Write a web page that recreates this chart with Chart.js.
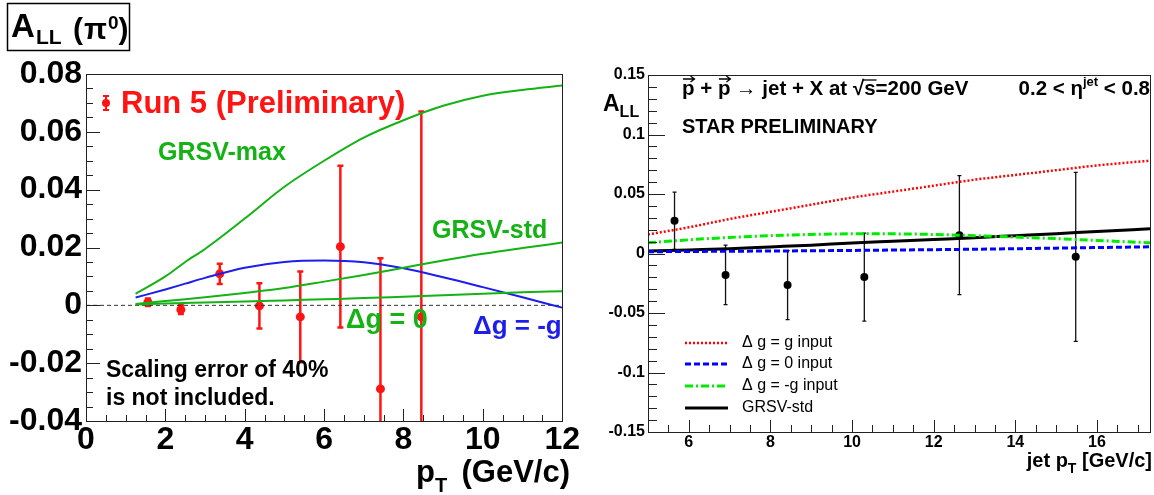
<!DOCTYPE html>
<html>
<head>
<meta charset="utf-8">
<script src="https://cdn.jsdelivr.net/npm/chart.js@4.4.0/dist/chart.umd.min.js"></script>
<style>
html, body { margin: 0; padding: 0; background: #fff; }
#wrap { position: relative; width: 1154px; height: 495px; overflow: hidden; }
.box { position: absolute; top: 0; height: 495px; }
</style>
</head>
<body>
<div id="wrap">
  <div class="box" style="left:0;width:580px"><canvas id="pi0"></canvas></div>
  <div class="box" style="left:580px;width:574px"><canvas id="jet"></canvas></div>
</div>
<script>
// pi0 panel: data points
const pi0Pt  = [1.56, 2.39, 3.37, 4.37, 5.40, 6.41, 7.42, 8.45];
const pi0All = [0.0011, -0.0015, 0.0109, -0.0002, -0.0040, 0.0203, -0.0289, -0.0040];
const pi0Err = [0.0013, 0.0015, 0.0035, 0.0078, 0.0157, 0.0280, 0.0452, 0.0710];
// pi0 panel: theory curves
const pi0CurvePt = [1.25, 2, 2.5, 3, 4, 5, 6, 7, 8, 9, 10, 11, 12];
const pi0GrsvMax = [0.004, 0.010, 0.015, 0.0195, 0.030, 0.041, 0.050, 0.058, 0.064, 0.069, 0.0725, 0.0745, 0.076];
const pi0GrsvStd = [0.0005, 0.0015, 0.0021, 0.0028, 0.0043, 0.0060, 0.0082, 0.0105, 0.0130, 0.0155, 0.0178, 0.0198, 0.0217];
const pi0DgZero  = [0.0003, 0.0006, 0.0008, 0.0010, 0.0013, 0.0017, 0.0021, 0.0025, 0.0030, 0.0035, 0.0040, 0.0045, 0.0049];
const pi0DgMinus = [0.0027, 0.0055, 0.0075, 0.0095, 0.0130, 0.0150, 0.0155, 0.0149, 0.0128, 0.0097, 0.0063, 0.0028, -0.0008];
const pi0ZeroPt  = [0, 12];
const pi0Zero    = [0, 0];
const pi0XTicks  = [0, 2, 4, 6, 8, 10, 12];
const pi0YTicks  = [-0.04, -0.02, 0, 0.02, 0.04, 0.06, 0.08];

// jet panel: data points
const jetPt  = [5.65, 6.90, 8.42, 10.30, 12.63, 15.48];
const jetAll = [0.0275, -0.0180, -0.0265, -0.0198, 0.0154, -0.0028];
const jetErr = [0.024, 0.025, 0.029, 0.037, 0.050, 0.071];
// jet panel: theory curves
const jetCurvePt = [5, 6, 7, 8, 9, 10, 11, 12, 13, 14, 15, 16, 17.3];
const jetDgG     = [0.016, 0.022, 0.029, 0.035, 0.041, 0.047, 0.052, 0.057, 0.062, 0.066, 0.070, 0.074, 0.078];
const jetDgZero  = [0.0015, 0.0017, 0.0019, 0.0021, 0.0023, 0.0026, 0.0029, 0.0032, 0.0036, 0.0040, 0.0045, 0.0050, 0.0056];
const jetDgMinus = [0.009, 0.0115, 0.0135, 0.015, 0.016, 0.0165, 0.0165, 0.016, 0.015, 0.0138, 0.0125, 0.011, 0.009];
const jetGrsvStd = [0.002, 0.003, 0.004, 0.0055, 0.007, 0.0088, 0.0103, 0.0118, 0.0133, 0.015, 0.0167, 0.0185, 0.0207];
const jetXTicks  = [6, 8, 10, 12, 14, 16];
const jetYTicks  = [-0.15, -0.1, -0.05, 0, 0.05, 0.1, 0.15];

const FONT = '"Liberation Sans", Arial, Helvetica, sans-serif';
const GREEN = 'rgb(20,178,20)';
const BLUE = 'rgb(30,30,235)';
const RED = 'rgb(255,20,20)';

Chart.defaults.font.family = FONT;
Chart.defaults.animation = false;

function pts(xs, ys) { return xs.map((x, i) => ({ x: x, y: ys[i] })); }
function fmt(v) { return Math.abs(v) < 1e-9 ? '0' : String(parseFloat(v.toFixed(3))); }

function txt(ctx, s, x, y, font, color, align) {
    ctx.font = font;
    ctx.fillStyle = color;
    ctx.textAlign = align || 'left';
    ctx.textBaseline = 'alphabetic';
    ctx.fillText(s, x, y);
    return x + ctx.measureText(s).width;
}
function width(ctx, s, font) { ctx.font = font; return ctx.measureText(s).width; }

// ROOT style inner ticks
const tickCfg = {
    pi0: { x0: 0, x1: 12, xMinor: 0.5, xMajor: 2, y0: -0.04, y1: 0.08, yMinor: 0.005, yMajor: 0.02,
           xLen: [12, 6], yLen: [14, 7] },
    jet: { x0: 5, x1: 17.3, xMinor: 0.5, xMajor: 2, y0: -0.15, y1: 0.15, yMinor: 0.01, yMajor: 0.05,
           xLen: [12, 7], yLen: [17, 9] }
};

function drawPi0Notes(chart, ctx) {
    ctx.save();
    ctx.strokeStyle = '#000';
    ctx.lineWidth = 1.5;
    ctx.strokeRect(7.5, 3.5, 122, 47);
    txt(ctx, 'A', 11, 37, 'bold 33px ' + FONT, '#000');
    txt(ctx, 'LL', 36, 44, 'bold 21px ' + FONT, '#000');
    let x = txt(ctx, '(', 73, 39, 'bold 30px ' + FONT, '#000');
    x = txt(ctx, 'π', x + 1, 39, 'bold 30px ' + FONT, '#000');
    x = txt(ctx, '0', x + 1, 29, 'bold 19px ' + FONT, '#000');
    txt(ctx, ')', x, 39, 'bold 30px ' + FONT, '#000');

    // legend marker
    ctx.strokeStyle = RED;
    ctx.lineWidth = 2;
    ctx.beginPath();
    ctx.moveTo(106, 96); ctx.lineTo(106, 110);
    ctx.moveTo(103, 96); ctx.lineTo(109, 96);
    ctx.moveTo(103, 110); ctx.lineTo(109, 110);
    ctx.stroke();
    ctx.fillStyle = RED;
    ctx.beginPath(); ctx.arc(106, 103, 4, 0, Math.PI * 2); ctx.fill();
    txt(ctx, 'Run 5 (Preliminary)', 121, 113, 'bold 31px ' + FONT, RED);

    txt(ctx, 'GRSV-max', 158, 160, 'bold 25px ' + FONT, GREEN);
    txt(ctx, 'GRSV-std', 432, 238, 'bold 25px ' + FONT, GREEN);
    txt(ctx, 'Δg = 0', 346, 328, 'bold 27px ' + FONT, GREEN);
    txt(ctx, 'Δg = -g', 473, 334, 'bold 26px ' + FONT, BLUE);
    txt(ctx, 'Scaling error of 40%', 106, 377, 'bold 23px ' + FONT, '#000');
    txt(ctx, 'is not included.', 106, 405, 'bold 23px ' + FONT, '#000');

    x = txt(ctx, 'p', 416, 482, 'bold 31px ' + FONT, '#000');
    x = txt(ctx, 'T', x, 492, 'bold 20px ' + FONT, '#000');
    txt(ctx, '(GeV/c)', 570, 482, 'bold 31px ' + FONT, '#000', 'right');
    ctx.restore();
}

function vecP(ctx, x, y, font) {
    const w = width(ctx, 'p', font);
    txt(ctx, 'p', x, y, font, '#000');
    const ay = y - 16;
    ctx.beginPath();
    ctx.moveTo(x + 1, ay); ctx.lineTo(x + w, ay);
    ctx.moveTo(x + w - 4, ay - 3); ctx.lineTo(x + w, ay); ctx.lineTo(x + w - 4, ay + 3);
    ctx.stroke();
    return x + w;
}

function drawJetNotes(chart, ctx) {
    ctx.save();
    ctx.strokeStyle = '#000';
    ctx.lineWidth = 1.3;
    const F = 'bold 20.5px ' + FONT;
    let x = vecP(ctx, 102, 95, F);
    x = txt(ctx, ' + ', x, 95, F, '#000');
    x = vecP(ctx, x, 95, F);
    x = txt(ctx, ' → jet + X at ', x, 95, F, '#000');
    x = txt(ctx, '√', x, 95, F, '#000');
    const s0 = x;
    x = txt(ctx, 's', x, 95, F, '#000');
    ctx.beginPath(); ctx.moveTo(s0 - 1, 80); ctx.lineTo(x + 1, 80); ctx.stroke();
    txt(ctx, '=200 GeV', x, 95, F, '#000');

    // eta range, right aligned
    const FS = 'bold 13px ' + FONT;
    const total = width(ctx, '0.2 < η', F) + width(ctx, 'jet', FS) + width(ctx, ' < 0.8', F);
    x = 570 - total;
    x = txt(ctx, '0.2 < η', x, 95, F, '#000');
    x = txt(ctx, 'jet', x, 86, FS, '#000');
    txt(ctx, ' < 0.8', x, 95, F, '#000');

    txt(ctx, 'STAR PRELIMINARY', 102, 133, 'bold 20px ' + FONT, '#000');

    x = txt(ctx, 'A', 23, 111, 'bold 23px ' + FONT, '#000');
    txt(ctx, 'LL', x, 117, 'bold 16px ' + FONT, '#000');

    const TF = 'bold 20px ' + FONT, TS = 'bold 14px ' + FONT;
    const tw = width(ctx, 'jet p', TF) + width(ctx, 'T', TS) + width(ctx, ' [GeV/c]', TF);
    x = 572 - tw;
    x = txt(ctx, 'jet p', x, 467, TF, '#000');
    x = txt(ctx, 'T', x, 473, TS, '#000');
    txt(ctx, ' [GeV/c]', x, 467, TF, '#000');

    // legend
    const rows = [343, 364, 386, 408];
    chart.data.datasets.slice(0, 4).forEach((ds, i) => {
        ctx.strokeStyle = ds.borderColor;
        ctx.lineWidth = ds.borderWidth;
        ctx.setLineDash(ds.borderDash || []);
        ctx.beginPath(); ctx.moveTo(105, rows[i]); ctx.lineTo(148, rows[i]); ctx.stroke();
        ctx.setLineDash([]);
        ctx.font = '16px ' + FONT;
        ctx.fillStyle = '#000';
        ctx.textAlign = 'left';
        ctx.textBaseline = 'middle';
        ctx.fillText(ds.label, 162, rows[i]);
    });
    ctx.restore();
}

const notes = { pi0: drawPi0Notes, jet: drawJetNotes };

const rootFrame = {
    id: 'rootFrame',
    beforeDatasetsDraw(chart) {
        const ctx = chart.ctx, a = chart.chartArea;
        const xs = chart.scales.x, ys = chart.scales.y;
        ctx.save();
        ctx.beginPath();
        ctx.rect(a.left, a.top, a.right - a.left, a.bottom - a.top);
        ctx.clip();
        chart.data.datasets.forEach(ds => {
            if (!ds.errors) return;
            ctx.strokeStyle = ds.errColor;
            ctx.lineWidth = ds.errWidth;
            ds.data.forEach((p, i) => {
                const px = xs.getPixelForValue(p.x);
                const y1 = ys.getPixelForValue(p.y + ds.errors[i]);
                const y2 = ys.getPixelForValue(p.y - ds.errors[i]);
                ctx.beginPath();
                ctx.moveTo(px, y1); ctx.lineTo(px, y2);
                ctx.moveTo(px - ds.cap, y1); ctx.lineTo(px + ds.cap, y1);
                ctx.moveTo(px - ds.cap, y2); ctx.lineTo(px + ds.cap, y2);
                ctx.stroke();
            });
        });
        ctx.restore();
    },
    afterDraw(chart) {
        const ctx = chart.ctx, a = chart.chartArea;
        const xs = chart.scales.x, ys = chart.scales.y;
        const c = tickCfg[chart.canvas.id];
        ctx.save();
        ctx.strokeStyle = '#222';
        ctx.lineWidth = 1;
        ctx.strokeRect(Math.round(a.left) + 0.5, Math.round(a.top) + 0.5,
                       Math.round(a.right - a.left), Math.round(a.bottom - a.top));
        ctx.beginPath();
        const nx = Math.round((c.x1 - c.x0) / c.xMinor);
        for (let i = 0; i <= nx; i++) {
            const v = c.x0 + i * c.xMinor;
            const major = Math.abs(v / c.xMajor - Math.round(v / c.xMajor)) < 1e-6;
            const px = Math.round(xs.getPixelForValue(v)) + 0.5;
            ctx.moveTo(px, a.bottom); ctx.lineTo(px, a.bottom - (major ? c.xLen[0] : c.xLen[1]));
        }
        const ny = Math.round((c.y1 - c.y0) / c.yMinor);
        for (let i = 0; i <= ny; i++) {
            const v = c.y0 + i * c.yMinor;
            const major = Math.abs(v / c.yMajor - Math.round(v / c.yMajor)) < 1e-6;
            const py = Math.round(ys.getPixelForValue(v)) + 0.5;
            ctx.moveTo(a.left, py); ctx.lineTo(a.left + (major ? c.yLen[0] : c.yLen[1]), py);
        }
        ctx.stroke();
        ctx.restore();
        notes[chart.canvas.id](chart, ctx);
    }
};

function curve(label, xs, ys, color, w, dash) {
    return { label: label, data: pts(xs, ys), borderColor: color, borderWidth: w, borderDash: dash || [],
             pointRadius: 0, cubicInterpolationMode: 'monotone', fill: false };
}

// pi0 chart
new Chart(document.getElementById('pi0'), {
    type: 'line',
    data: {
        datasets: [
            curve('GRSV-max', pi0CurvePt, pi0GrsvMax, GREEN, 2),
            curve('GRSV-std', pi0CurvePt, pi0GrsvStd, GREEN, 2),
            curve('Δg = 0', pi0CurvePt, pi0DgZero, GREEN, 2),
            curve('Δg = -g', pi0CurvePt, pi0DgMinus, BLUE, 2),
            curve('zero', pi0ZeroPt, pi0Zero, '#333', 1, [4, 3]),
            {
                label: 'Run 5 (Preliminary)', data: pts(pi0Pt, pi0All), showLine: false,
                pointRadius: 4.5, pointBorderWidth: 0, pointBackgroundColor: RED,
                errors: pi0Err, errColor: RED, errWidth: 2.5, cap: 3
            }
        ]
    },
    options: {
        responsive: true,
        maintainAspectRatio: false,
        layout: { padding: { top: 74, right: 9, left: 0, bottom: 0 }, autoPadding: false },
        plugins: { legend: { display: false }, tooltip: { enabled: false } },
        scales: {
            x: {
                type: 'linear', min: 0, max: 12,
                afterBuildTicks: s => { s.ticks = pi0XTicks.map(v => ({ value: v })); },
                afterFit: s => { s.height = 74; },
                grid: { display: false, drawTicks: false },
                border: { display: false },
                ticks: { color: '#000', font: { size: 32, weight: 'bold' }, padding: 0,
                         maxRotation: 0, autoSkip: false, callback: v => fmt(v) }
            },
            y: {
                type: 'linear', min: -0.04, max: 0.08,
                afterBuildTicks: s => { s.ticks = pi0YTicks.map(v => ({ value: v })); },
                afterFit: s => { s.width = 86; },
                grid: { display: false, drawTicks: false },
                border: { display: false },
                ticks: { color: '#000', font: { size: 32, weight: 'bold' }, padding: 4,
                         autoSkip: false, callback: v => fmt(v) }
            }
        }
    },
    plugins: [rootFrame]
});

// jet chart
new Chart(document.getElementById('jet'), {
    type: 'line',
    data: {
        datasets: [
            curve('Δ g = g input', jetCurvePt, jetDgG, 'rgb(255,0,0)', 2.5, [2, 2]),
            curve('Δ g = 0 input', jetCurvePt, jetDgZero, 'rgb(0,0,255)', 3, [6, 3]),
            curve('Δ g = -g input', jetCurvePt, jetDgMinus, 'rgb(0,235,0)', 3, [8, 3, 2, 3]),
            curve('GRSV-std', jetCurvePt, jetGrsvStd, '#000', 3),
            {
                label: 'data', data: pts(jetPt, jetAll), showLine: false,
                pointRadius: 4, pointBorderWidth: 0, pointBackgroundColor: '#000',
                errors: jetErr, errColor: '#111', errWidth: 1.3, cap: 2
            }
        ]
    },
    options: {
        responsive: true,
        maintainAspectRatio: false,
        layout: { padding: { top: 75, right: 4, left: 0, bottom: 0 }, autoPadding: false },
        plugins: { legend: { display: false }, tooltip: { enabled: false } },
        scales: {
            x: {
                type: 'linear', min: 5, max: 17.3,
                afterBuildTicks: s => { s.ticks = jetXTicks.map(v => ({ value: v })); },
                afterFit: s => { s.height = 63; },
                grid: { display: false, drawTicks: false },
                border: { display: false },
                ticks: { color: '#000', font: { size: 16, weight: 'bold' }, padding: 1,
                         maxRotation: 0, autoSkip: false, callback: v => fmt(v) }
            },
            y: {
                type: 'linear', min: -0.15, max: 0.15,
                afterBuildTicks: s => { s.ticks = jetYTicks.map(v => ({ value: v })); },
                afterFit: s => { s.width = 68; },
                grid: { display: false, drawTicks: false },
                border: { display: false },
                ticks: { color: '#000', font: { size: 16, weight: 'bold' }, padding: 3,
                         autoSkip: false, callback: v => fmt(v) }
            }
        }
    },
    plugins: [rootFrame]
});
</script>
</body>
</html>
